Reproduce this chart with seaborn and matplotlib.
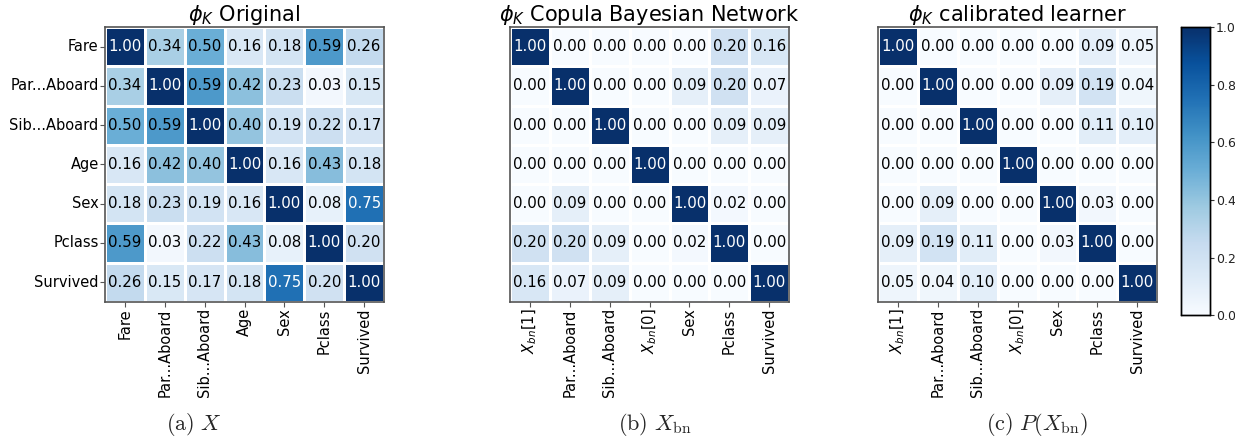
import numpy as np
import pandas as pd
import matplotlib
matplotlib.use("Agg")
import matplotlib.pyplot as plt
import seaborn as sns

sns.set_theme(style="white")
plt.rcParams["font.family"] = ["DejaVu Sans"]

rows_orig = ["Fare", "Par...Aboard", "Sib...Aboard", "Age", "Sex", "Pclass", "Survived"]
cols_bn = ["$X_{bn}$[1]", "Par...Aboard", "Sib...Aboard", "$X_{bn}$[0]", "Sex", "Pclass", "Survived"]

phik_original = [
    [1.00, 0.34, 0.50, 0.16, 0.18, 0.59, 0.26],
    [0.34, 1.00, 0.59, 0.42, 0.23, 0.03, 0.15],
    [0.50, 0.59, 1.00, 0.40, 0.19, 0.22, 0.17],
    [0.16, 0.42, 0.40, 1.00, 0.16, 0.43, 0.18],
    [0.18, 0.23, 0.19, 0.16, 1.00, 0.08, 0.75],
    [0.59, 0.03, 0.22, 0.43, 0.08, 1.00, 0.20],
    [0.26, 0.15, 0.17, 0.18, 0.75, 0.20, 1.00],
]
phik_bn = [
    [1.00, 0.00, 0.00, 0.00, 0.00, 0.20, 0.16],
    [0.00, 1.00, 0.00, 0.00, 0.09, 0.20, 0.07],
    [0.00, 0.00, 1.00, 0.00, 0.00, 0.09, 0.09],
    [0.00, 0.00, 0.00, 1.00, 0.00, 0.00, 0.00],
    [0.00, 0.09, 0.00, 0.00, 1.00, 0.02, 0.00],
    [0.20, 0.20, 0.09, 0.00, 0.02, 1.00, 0.00],
    [0.16, 0.07, 0.09, 0.00, 0.00, 0.00, 1.00],
]
phik_calibrated = [
    [1.00, 0.00, 0.00, 0.00, 0.00, 0.09, 0.05],
    [0.00, 1.00, 0.00, 0.00, 0.09, 0.19, 0.04],
    [0.00, 0.00, 1.00, 0.00, 0.00, 0.11, 0.10],
    [0.00, 0.00, 0.00, 1.00, 0.00, 0.00, 0.00],
    [0.00, 0.09, 0.00, 0.00, 1.00, 0.03, 0.00],
    [0.09, 0.19, 0.11, 0.00, 0.03, 1.00, 0.00],
    [0.05, 0.04, 0.10, 0.00, 0.00, 0.00, 1.00],
]

titles = [r"$\phi_K$ Original", r"$\phi_K$ Copula Bayesian Network", r"$\phi_K$ calibrated learner"]
captions = [r"$\mathrm{(a)}\ X$", r"$\mathrm{(b)}\ X_{\mathrm{bn}}$", r"$\mathrm{(c)}\ P(X_{\mathrm{bn}})$"]
caption_x = [0.157, 0.530, 0.840]

fig = plt.figure(figsize=(12.35, 4.42), dpi=100)
lefts = [0.085, 0.413, 0.711]
axes = [fig.add_axes([l, 0.317, 0.226, 0.622]) for l in lefts]
cax = fig.add_axes([0.956, 0.287, 0.0235, 0.652])

data = [
    pd.DataFrame(phik_original, index=rows_orig, columns=rows_orig),
    pd.DataFrame(phik_bn, index=cols_bn, columns=cols_bn),
    pd.DataFrame(phik_calibrated, index=cols_bn, columns=cols_bn),
]

for i, (ax, df) in enumerate(zip(axes, data)):
    sns.heatmap(df, ax=ax, cmap="Blues", vmin=0, vmax=1, annot=True, fmt=".2f",
                annot_kws={"size": 10.8}, linewidths=0.8, linecolor="white",
                cbar=(i == 2), cbar_ax=cax if i == 2 else None)
    # white text only on the darkest cells, black elsewhere
    for t in ax.texts:
        t.set_color("white" if float(t.get_text()) > 0.65 else "black")
    ax.set_title(titles[i], fontsize=15, pad=4, color="black")
    for s in ax.spines.values():
        s.set_visible(True)
        s.set_color("#555555")
        s.set_linewidth(1.2)
    ax.tick_params(axis="both", length=3.5, width=0.8, color="#555555", labelsize=10.5,
                   left=True, bottom=True, pad=1, labelcolor="black")
    ax.set_xticklabels(df.columns, rotation=90)
    if i == 0:
        ax.set_yticklabels(df.index, rotation=0)
    else:
        ax.set_yticklabels([])
        ax.tick_params(axis="y", left=False)
    ax.set_xlabel("")
    ax.set_ylabel("")

cax.tick_params(labelsize=9, length=3, width=0.8, color="#333333", right=True, pad=1.5,
                labelcolor="#222222")
cax.set_yticks([0.0, 0.2, 0.4, 0.6, 0.8, 1.0])
cax.set_yticklabels(["0.0", "0.2", "0.4", "0.6", "0.8", "1.0"])
for s in cax.spines.values():
    s.set_visible(True)
    s.set_color("black")
    s.set_linewidth(1)

for x, cap in zip(caption_x, captions):
    fig.text(x, 0.008, cap, ha="center", va="bottom", fontsize=16, math_fontfamily="cm")

fig.savefig("out.png", dpi=100)
